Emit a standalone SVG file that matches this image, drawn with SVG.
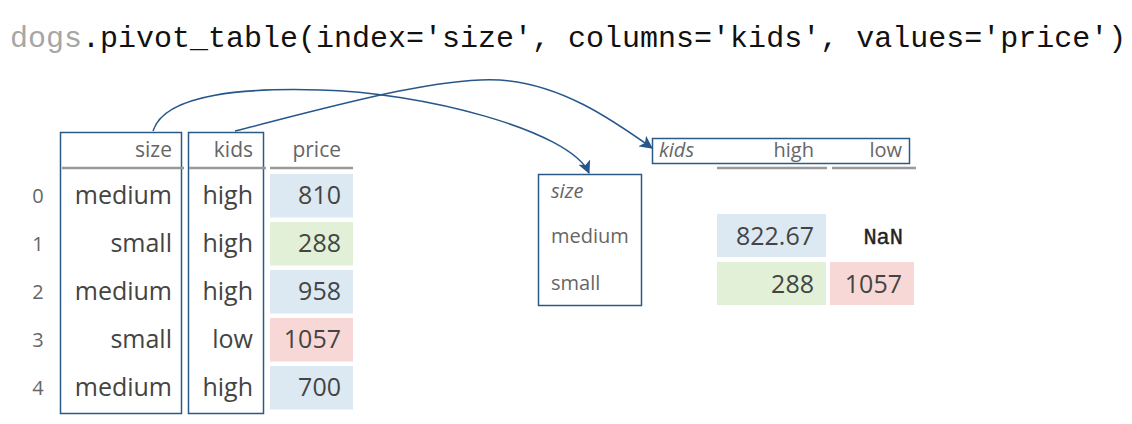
<svg xmlns="http://www.w3.org/2000/svg" width="1132" height="424" viewBox="0 0 1132 424">
<defs>
<marker id="arr" viewBox="0 0 12 12" refX="11" refY="6" markerWidth="13" markerHeight="13" markerUnits="userSpaceOnUse" orient="auto">
<path d="M0,0 L12,6 L0,12 L3,6 Z" fill="#27578a"/>
</marker>
</defs>
<style>
.code{font-family:"Liberation Mono",monospace;font-size:30px;fill:#111}
.dim{fill:#a6a6a6}
.box{fill:none;stroke:#2a5a85;stroke-width:1.5}
.hl{stroke:#999;stroke-width:2.5}
.hdr{font-family:"Open Sans",sans-serif;font-size:21px;fill:#666}
.val{font-family:"Open Sans",sans-serif;font-size:25px;fill:#444}
.lbl{font-family:"Open Sans",sans-serif;font-size:20px;fill:#666}
.it{font-style:italic}
.r{text-anchor:end}
.c{text-anchor:middle}
.blue{fill:#dde9f2}
.green{fill:#e3f0d8}
.red{fill:#f7d8d7}
.nan{font-family:"Liberation Mono",monospace;font-size:22px;fill:#222;stroke:#222;stroke-width:0.4}
.conn{fill:none;stroke:#27578a;stroke-width:1.5;marker-end:url(#arr)}
</style>
<rect width="1132" height="424" fill="#fff"/>
<g id="title">
<text class="code" x="10" y="47"><tspan class="dim">dogs</tspan>.pivot_table(index='size', columns='kids', values='price')</text>
</g>
<g id="index">
<text class="lbl c" x="38" y="203">0</text>
<text class="lbl c" x="38" y="251">1</text>
<text class="lbl c" x="38" y="299">2</text>
<text class="lbl c" x="38" y="347">3</text>
<text class="lbl c" x="38" y="395">4</text>
</g>
<g id="size-col">
<rect class="box" x="60.5" y="132.5" width="121" height="281"/>
<line class="hl" x1="62" y1="168" x2="184" y2="168"/>
<text class="hdr r" x="172" y="157">size</text>
<text class="val r" x="172" y="204">medium</text>
<text class="val r" x="172" y="252">small</text>
<text class="val r" x="172" y="300">medium</text>
<text class="val r" x="172" y="348">small</text>
<text class="val r" x="172" y="396">medium</text>
</g>
<g id="kids-col">
<rect class="box" x="188.5" y="132.5" width="75" height="281"/>
<line class="hl" x1="189" y1="168" x2="266" y2="168"/>
<text class="hdr r" x="253" y="157">kids</text>
<text class="val r" x="253" y="204">high</text>
<text class="val r" x="253" y="252">high</text>
<text class="val r" x="253" y="300">high</text>
<text class="val r" x="253" y="348">low</text>
<text class="val r" x="253" y="396">high</text>
</g>
<g id="price-col">
<line class="hl" x1="270" y1="168" x2="353" y2="168"/>
<text class="hdr r" x="341" y="157">price</text>
<rect class="blue" x="270" y="174" width="83" height="43.5"/>
<rect class="green" x="270" y="222" width="83" height="43.5"/>
<rect class="blue" x="270" y="270" width="83" height="43.5"/>
<rect class="red" x="270" y="318" width="83" height="43.5"/>
<rect class="blue" x="270" y="366" width="83" height="43.5"/>
<text class="val r" x="341" y="204">810</text>
<text class="val r" x="341" y="252">288</text>
<text class="val r" x="341" y="300">958</text>
<text class="val r" x="341" y="348">1057</text>
<text class="val r" x="341" y="396">700</text>
</g>
<g id="result-index">
<rect class="box" x="538.5" y="174.5" width="103" height="131"/>
<text class="lbl it" x="551" y="198">size</text>
<text class="lbl" x="551" y="243">medium</text>
<text class="lbl" x="551" y="290">small</text>
</g>
<g id="result-columns">
<rect class="box" x="652.5" y="138.5" width="257" height="25"/>
<text class="lbl it" x="659" y="157">kids</text>
<text class="lbl r" x="814" y="157">high</text>
<text class="lbl r" x="902" y="157">low</text>
<line class="hl" x1="717" y1="168" x2="827" y2="168"/>
<line class="hl" x1="832" y1="168" x2="916" y2="168"/>
</g>
<g id="result-values">
<rect class="blue" x="717" y="214" width="109" height="43"/>
<rect class="green" x="717" y="262" width="109" height="43"/>
<rect class="red" x="830" y="262" width="84" height="43"/>
<text class="val r" x="814" y="245">822.67</text>
<text class="nan r" x="903" y="244">NaN</text>
<text class="val r" x="814" y="293">288</text>
<text class="val r" x="902" y="293">1057</text>
</g>
<g id="connectors">
<path class="conn" d="M153,131 C165,92 250,88 320,90 C420,92 570,130 589,173"/>
<path class="conn" d="M235,131 C330,107 440,76 500,80 C560,84 610,118 652,148"/>
</g>
</svg>
